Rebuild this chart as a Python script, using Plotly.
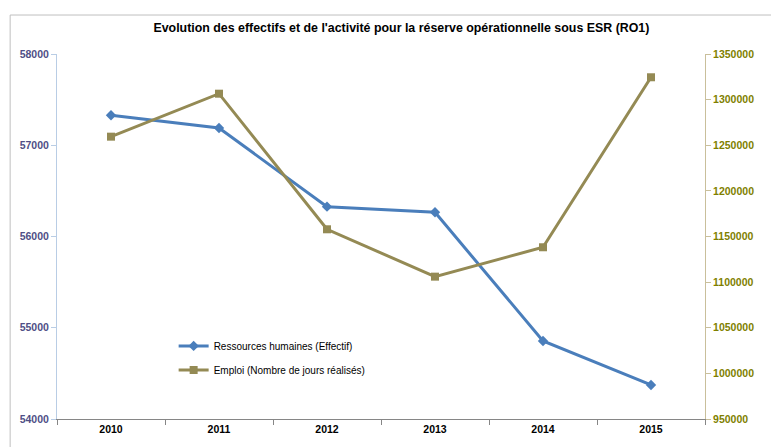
import plotly.graph_objects as go

years = ["2010", "2011", "2012", "2013", "2014", "2015"]
effectif = [57328, 57189, 56327, 56265, 54855, 54373]
jours = [1259400, 1306500, 1157900, 1106000, 1138200, 1324500]

FONT = "Liberation Sans, Arial, sans-serif"

fig = go.Figure()

fig.add_trace(go.Scatter(
    x=years, y=effectif,
    name="Ressources humaines (Effectif)",
    legendgroup="rh",
    mode="lines+markers",
    line=dict(color="#4a7ebb", width=3),
    marker=dict(symbol="diamond", size=8, color="#4a7ebb"),
    yaxis="y"
))

fig.add_trace(go.Scatter(
    x=years, y=jours,
    name="Emploi (Nombre de jours réalisés)",
    legendgroup="emploi",
    mode="lines+markers",
    line=dict(color="#948a54", width=3),
    marker=dict(symbol="square", size=8, color="#948a54"),
    yaxis="y2"
))

# the page body has an 8px margin, so margins are shifted to compensate
fig.update_layout(
    width=779, height=447,
    margin=dict(l=47, r=82, t=46, b=36),
    paper_bgcolor="white", plot_bgcolor="white",
    font=dict(family=FONT, size=10, color="black"),
    title=dict(
        text="<b>Evolution des effectifs et de l'activité pour la réserve opérationnelle sous ESR (RO1)</b>",
        x=0.505, xanchor="center", y=0.957, yanchor="middle",
        font=dict(family=FONT, size=12.4, color="black")
    ),
    xaxis=dict(
        type="category",
        range=[-0.5, len(years) - 0.5],
        showgrid=False,
        showline=True, linecolor="#868686", linewidth=1,
        ticks="outside", tickson="boundaries", ticklen=5, tickcolor="#868686",
        tickfont=dict(family=FONT, size=10.5, color="black", weight="bold"),
    ),
    yaxis=dict(
        range=[54000, 58000], dtick=1000, tickformat="d",
        showgrid=False, zeroline=False,
        showline=True, linecolor="#b9cde5", linewidth=1,
        ticks="outside", ticklen=5, tickcolor="#b9cde5",
        tickfont=dict(family=FONT, size=10.5, color="#4f4f86", weight="bold"),
    ),
    yaxis2=dict(
        range=[950000, 1350000], dtick=50000, tickformat="d",
        overlaying="y", side="right",
        showgrid=False, zeroline=False,
        showline=True, linecolor="#c9bf9b", linewidth=1,
        ticks="outside", ticklen=5, tickcolor="#c9bf9b",
        tickfont=dict(family=FONT, size=10.5, color="#7f7f00", weight="bold"),
    ),
    legend=dict(
        x=0.18, y=0.24, xanchor="left", yanchor="top",
        bgcolor="rgba(0,0,0,0)",
        traceorder="grouped",
        font=dict(family=FONT, size=10, color="black"),
        tracegroupgap=5,
    ),
    shapes=[dict(
        type="rect", xref="paper", yref="paper",
        x0=-0.0723, x1=1.3, y0=-0.3, y1=1.1068,
        line=dict(color="#bfbfbf", width=1), layer="below"
    )],
)

fig.write_html("out.html")
